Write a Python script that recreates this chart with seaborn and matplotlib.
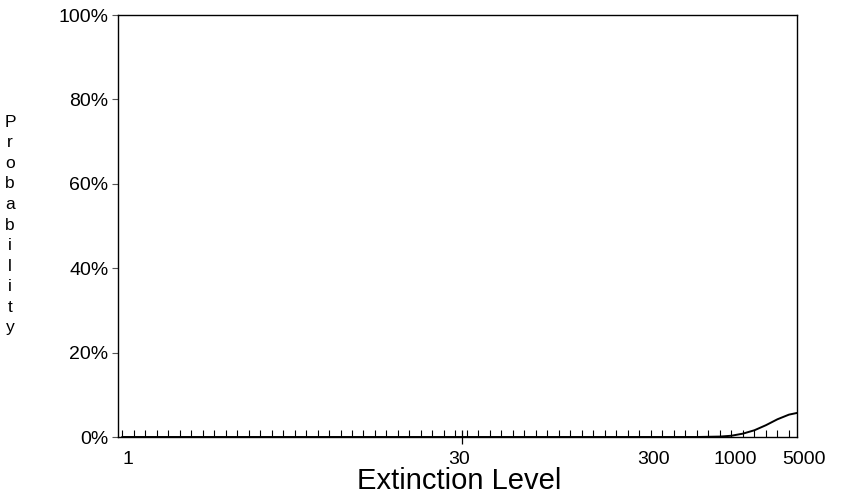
import matplotlib
matplotlib.use("Agg")
import matplotlib.pyplot as plt
import seaborn as sns
import pandas as pd

# Extinction-level positions along the (evenly spaced) scale and probabilities in %
level_pos = list(range(1, 60)) + [59.7]
probability = [0.0] * 51 + [0.05, 0.1, 0.3, 0.8, 1.6, 2.8, 4.2, 5.3, 5.7]

# Tick labels on the extinction scale and where they sit
x_labels = ["1", "30", "300", "1000", "5000"]
x_label_pos = [1.5, 30.3, 47.2, 54.3, 60.3]
y_ticks = [0, 20, 40, 60, 80, 100]
y_labels = ["0%", "20%", "40%", "60%", "80%", "100%"]

df = pd.DataFrame({"pos": level_pos, "prob": probability})

sns.set_theme(style="white")
plt.rcParams["font.family"] = ["Liberation Sans", "DejaVu Sans"]
plt.rcParams["text.color"] = "black"
plt.rcParams["xtick.color"] = "black"
plt.rcParams["ytick.color"] = "black"
plt.rcParams["axes.labelcolor"] = "black"

fig = plt.figure(figsize=(8.49, 4.94), dpi=100)
ax = fig.add_axes([118 / 849, 1 - 437 / 494, (797 - 118) / 849, (437 - 15) / 494])

sns.lineplot(data=df, x="pos", y="prob", color="black", linewidth=1.4, ax=ax)

for s in ax.spines.values():
    s.set_color("black")
    s.set_linewidth(1.0)

# y axis ticks
ax.set_yticks(y_ticks)
ax.set_yticklabels(y_labels, fontsize=14)
ax.tick_params(axis="y", direction="out", length=4, width=0.8, color="#555555", pad=3, left=True)

# x axis: labels without tick marks (last one beyond the frame), small inward ticks at each level
ax.set_xticks(x_label_pos[:-1])
ax.set_xticklabels(x_labels[:-1], fontsize=14)
ax.tick_params(axis="x", length=0, pad=10, bottom=True)
ax.set_xticks(level_pos[:-1], minor=True)
ax.tick_params(axis="x", which="minor", direction="in", length=5, width=0.8, color="black", bottom=True)
ax.annotate(x_labels[-1], xy=(x_label_pos[-1], 0), xycoords="data", xytext=(0, -10),
            textcoords="offset points", ha="center", va="top", fontsize=14,
            annotation_clip=False)
# long crossing tick at 30
ax.plot([30.6], [0], marker="|", markersize=10, color="black", clip_on=False, markeredgewidth=0.9)

ax.set_xlim(0.65, 59.7)
ax.set_ylim(0, 100)

ax.set_xlabel("Extinction Level", fontsize=21)
ax.xaxis.set_label_coords(0.503, -0.104)
ax.xaxis.label.set_va("center")
ax.set_ylabel("")

fig.text(10 / 849, 1 - 225 / 494, "\n".join("Probability"), ha="center", va="center",
         fontsize=12.5, linespacing=1.46)

fig.savefig("out.png", dpi=100, facecolor="white")
